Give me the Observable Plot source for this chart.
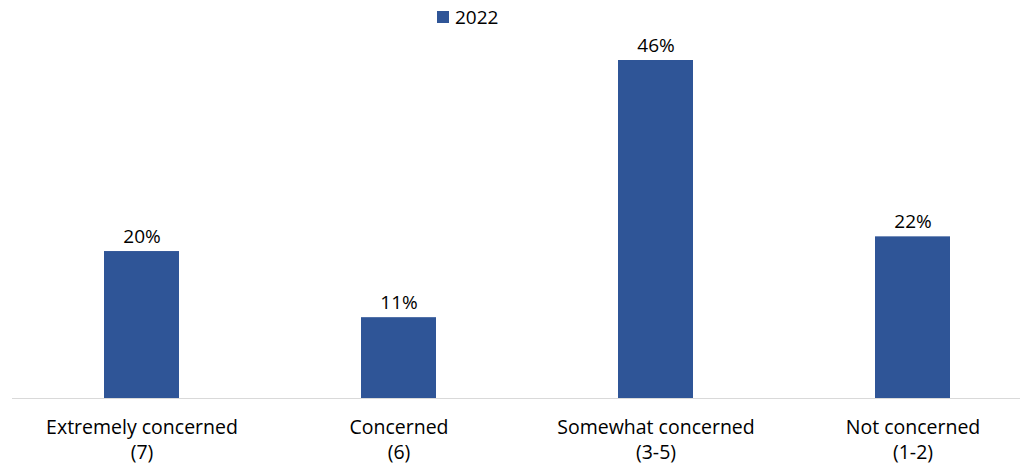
<!DOCTYPE html>
<html>
<head>
<meta charset="utf-8">
<script src="https://cdn.jsdelivr.net/npm/d3@7"></script>
<script src="https://cdn.jsdelivr.net/npm/@observablehq/plot@0.6"></script>
<style>
  html, body { margin: 0; padding: 0; background: #fff; }
  body { width: 1032px; height: 468px; overflow: hidden; font-family: "Open Sans", sans-serif; }
  #legend { height: 20px; position: relative; }
  #legend .item { position: absolute; left: 437px; top: 4px; display: flex; align-items: center; font-size: 19px; line-height: 26px; color: #000; }
  #legend .sw { width: 12px; height: 12px; background: #2F5597; margin-right: 6px; }
</style>
</head>
<body>
<div id="legend"><div class="item"><span class="sw"></span><span>2022</span></div></div>
<div id="chart"></div>
<script>
const categories = ["Extremely concerned\n(7)", "Concerned\n(6)", "Somewhat concerned\n(3-5)", "Not concerned\n(1-2)"];
const values2022 = [0.20, 0.11, 0.46, 0.22];
const valueLabels = ["20%", "11%", "46%", "22%"];

const data = categories.map((c, i) => ({cat: c, value: values2022[i], label: valueLabels[i]}));

const chart = Plot.plot({
  width: 1032,
  height: 448,
  marginLeft: 12,
  marginRight: 12,
  marginTop: 0,
  marginBottom: 0,
  style: {fontFamily: "Open Sans, sans-serif", fontSize: "19px", color: "#000", background: "transparent", overflow: "visible"},
  x: {domain: categories, range: [11, 1042], paddingInner: 0.71, paddingOuter: 0.355, axis: null},
  y: {domain: [0, 0.46], range: [378, 40], axis: null},
  marks: [
    Plot.barY(data, {x: "cat", y: "value", fill: "#2F5597"}),
    Plot.ruleY([0], {stroke: "#d9d9d9", strokeWidth: 1}),
    Plot.text(data, {x: "cat", y: "value", text: "label", dy: -15, fill: "#000", fontSize: 19}),
    Plot.text(data, {x: "cat", y: 0, text: "cat", dy: 40, lineAnchor: "middle", lineHeight: 1.3, fill: "#000", fontSize: 19.5})
  ]
});
document.getElementById("chart").appendChild(chart);
</script>
</body>
</html>
